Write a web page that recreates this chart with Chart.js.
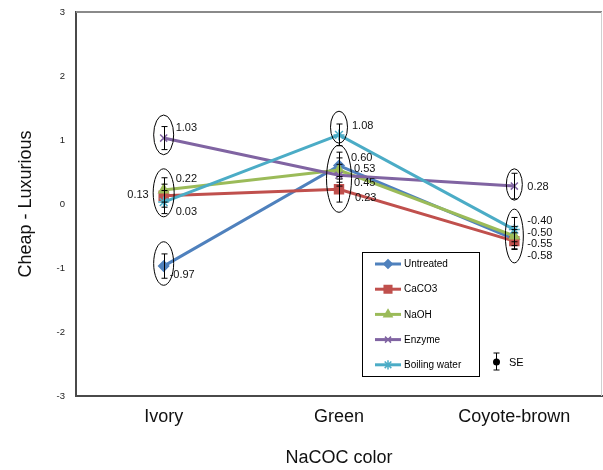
<!DOCTYPE html>
<html><head><meta charset="utf-8">
<script src="https://cdn.jsdelivr.net/npm/chart.js@4.4.1/dist/chart.umd.min.js"></script>
<style>html,body{margin:0;padding:0;background:#fff;} canvas{display:block;}</style>
</head><body>
<canvas id="c" width="603" height="470"></canvas>
<script>
// ---- data ----
const categories = ['Ivory', 'Green', 'Coyote-brown'];
const seriesNames = ['Untreated', 'CaCO3', 'NaOH', 'Enzyme', 'Boiling water'];
const untreated    = [-0.97, 0.60, -0.55];
const caco3        = [0.13, 0.23, -0.58];
const naoh         = [0.22, 0.53, -0.50];
const enzyme       = [1.03, 0.45, 0.28];
const boilingWater = [0.03, 1.08, -0.40];
const untreatedSE    = [0.19, 0.21, 0.15];
const caco3SE        = [0.18, 0.20, 0.13];
const naohSE         = [0.19, 0.19, 0.15];
const enzymeSE       = [0.18, 0.17, 0.20];
const boilingWaterSE = [0.18, 0.17, 0.19];
const yTicks = [-3, -2, -1, 0, 1, 2, 3];
const xTitle = 'NaCOC color';
const yTitle = 'Cheap - Luxurious';
const seLabel = 'SE';

// ---- styles ----
const values = [untreated, caco3, naoh, enzyme, boilingWater];
const seValues = [untreatedSE, caco3SE, naohSE, enzymeSE, boilingWaterSE];
const colors = ['#4F81BD', '#C0504D', '#9BBB59', '#8064A2', '#4BACC6'];
const pointStyles = ['rectRot', 'rect', 'triangle', 'crossRot', 'star'];
const pointRadii = [5, 6.3, 5.5, 5, 5.5];

// label offsets (px) per series per category
const labelOffsets = [
  [[6, 9, 'left'], [12, -8, 'left'], [13, 5, 'left']],
  [[-15, -1, 'right'], [16, 9, 'left'], [13, 15, 'left']],
  [[12, -11, 'left'], [15, -1, 'left'], [13, -3, 'left']],
  [[12, -10, 'left'], [15, 8, 'left'], [13, 1, 'left']],
  [[12, 10, 'left'], [13, -9, 'left'], [13, -9, 'left']]
];
// ellipse annotations: category index, top value, bottom value, x radius
const ellipses = [
  [0, 1.39, 0.77, 10], [0, 0.55, -0.20, 10.5], [0, -0.59, -1.27, 10],
  [1, 1.45, 0.95, 8.5], [1, 0.92, -0.13, 12.5],
  [2, 0.55, 0.06, 8], [2, -0.08, -0.92, 9]
];

function drawMarker(ctx, style, r, x, y, color) {
  ctx.save();
  ctx.fillStyle = color; ctx.strokeStyle = color; ctx.lineWidth = 1.5;
  if (Chart.helpers && Chart.helpers.drawPoint) {
    Chart.helpers.drawPoint(ctx, {pointStyle: style, radius: r, rotation: 0, borderWidth: 1.5}, x, y);
  }
  ctx.restore();
}

function zeroPad(s) { s.paddingTop = 0; s.paddingBottom = 0; s.paddingLeft = 0; s.paddingRight = 0; }

const annotations = {
  id: 'annotations',
  afterDatasetsDraw(chart) {
    const ctx = chart.ctx;
    const xs = chart.scales.x, ys = chart.scales.y;
    ctx.save();
    // plot frame: top and right
    const a = chart.chartArea;
    ctx.strokeStyle = '#8a8a8a'; ctx.lineWidth = 2;
    ctx.beginPath(); ctx.moveTo(a.left, a.top); ctx.lineTo(a.right, a.top); ctx.stroke();
    ctx.strokeStyle = '#d0d0d0'; ctx.lineWidth = 1;
    ctx.beginPath(); ctx.moveTo(a.right - 0.5, a.top); ctx.lineTo(a.right - 0.5, a.bottom); ctx.stroke();

    // error bars
    ctx.strokeStyle = '#000'; ctx.lineWidth = 1;
    values.forEach((vals, s) => {
      vals.forEach((v, i) => {
        const x = Math.round(xs.getPixelForValue(i)) + 0.5;
        const yt = ys.getPixelForValue(v + seValues[s][i]);
        const yb = ys.getPixelForValue(v - seValues[s][i]);
        ctx.beginPath();
        ctx.moveTo(x, yt); ctx.lineTo(x, yb);
        ctx.moveTo(x - 3, yt); ctx.lineTo(x + 3, yt);
        ctx.moveTo(x - 3, yb); ctx.lineTo(x + 3, yb);
        ctx.stroke();
      });
    });

    // ellipses
    ellipses.forEach(([ci, top, bot, rx]) => {
      const cx = xs.getPixelForValue(ci);
      const yt = ys.getPixelForValue(top), yb = ys.getPixelForValue(bot);
      ctx.beginPath();
      ctx.ellipse(cx, (yt + yb) / 2, rx, (yb - yt) / 2, 0, 0, Math.PI * 2);
      ctx.stroke();
    });

    // value labels
    ctx.fillStyle = '#111';
    ctx.font = '11px "Liberation Sans", Arial, sans-serif';
    ctx.textBaseline = 'middle';
    values.forEach((vals, s) => {
      vals.forEach((v, i) => {
        const [dx, dy, al] = labelOffsets[s][i];
        ctx.textAlign = al;
        ctx.fillText(v.toFixed(2), xs.getPixelForValue(i) + dx, ys.getPixelForValue(v) + dy);
      });
    });

    // legend box
    const lx = 362.5, ly = 252.5, lw = 117, lh = 124;
    ctx.strokeStyle = '#000'; ctx.lineWidth = 1;
    ctx.strokeRect(lx, ly, lw, lh);
    ctx.font = '10px "Liberation Sans", Arial, sans-serif';
    ctx.textAlign = 'left';
    seriesNames.forEach((name, s) => {
      const y = 264 + s * 25.2;
      ctx.strokeStyle = colors[s]; ctx.lineWidth = 3;
      ctx.beginPath(); ctx.moveTo(375, y); ctx.lineTo(401, y); ctx.stroke();
      drawMarker(ctx, pointStyles[s], pointRadii[s] * 0.85, 388, y, colors[s]);
      ctx.fillStyle = '#000';
      ctx.fillText(name, 404, y + 0.5);
    });

    // SE key
    ctx.strokeStyle = '#000'; ctx.lineWidth = 1;
    ctx.beginPath();
    ctx.moveTo(496.5, 353); ctx.lineTo(496.5, 370);
    ctx.moveTo(493.5, 353); ctx.lineTo(499.5, 353);
    ctx.moveTo(493.5, 370); ctx.lineTo(499.5, 370);
    ctx.stroke();
    ctx.fillStyle = '#000';
    ctx.beginPath(); ctx.arc(496.5, 362, 3.5, 0, Math.PI * 2); ctx.fill();
    ctx.font = '11px "Liberation Sans", Arial, sans-serif';
    ctx.fillText(seLabel, 509, 362.5);
    ctx.restore();
  }
};

const datasets = seriesNames.map((name, s) => ({
  label: name,
  data: values[s],
  borderColor: colors[s],
  backgroundColor: colors[s],
  borderWidth: 3,
  pointStyle: pointStyles[s],
  pointRadius: pointRadii[s],
  pointBorderWidth: 1.5,
  pointBackgroundColor: colors[s],
  pointBorderColor: colors[s],
  tension: 0,
  order: 5 - s
}));

new Chart(document.getElementById('c'), {
  type: 'line',
  data: {labels: categories, datasets},
  options: {
    responsive: false,
    animation: false,
    events: [],
    layout: {autoPadding: false, padding: {top: 12, right: 1, left: 0, bottom: 0}},
    plugins: {legend: {display: false}, tooltip: {enabled: false}},
    scales: {
      x: {
        offset: true,
        grid: {display: false, drawTicks: false, offset: true},
        border: {display: true, color: '#4a4a4a', width: 2},
        ticks: {padding: 10, color: '#111', font: {family: '"Liberation Sans", Arial, sans-serif', size: 18}},
        title: {display: true, text: xTitle, color: '#111', padding: {top: 0, bottom: 1},
                font: {family: '"Liberation Sans", Arial, sans-serif', size: 18}},
        afterFit(s) { s.height = 74; zeroPad(s); }
      },
      y: {
        min: -3, max: 3,
        afterBuildTicks(s) { s.ticks = yTicks.map(v => ({value: v})); },
        grid: {display: false, drawTicks: false},
        border: {display: true, color: '#4a4a4a', width: 2},
        ticks: {padding: 11, color: '#222', font: {family: '"Liberation Sans", Arial, sans-serif', size: 9.5}},
        title: {display: true, text: yTitle, color: '#111', padding: {top: 15, bottom: 0},
                font: {family: '"Liberation Sans", Arial, sans-serif', size: 18}},
        afterFit(s) { s.width = 76; zeroPad(s); }
      }
    }
  },
  plugins: [annotations]
});
</script>
</body></html>
